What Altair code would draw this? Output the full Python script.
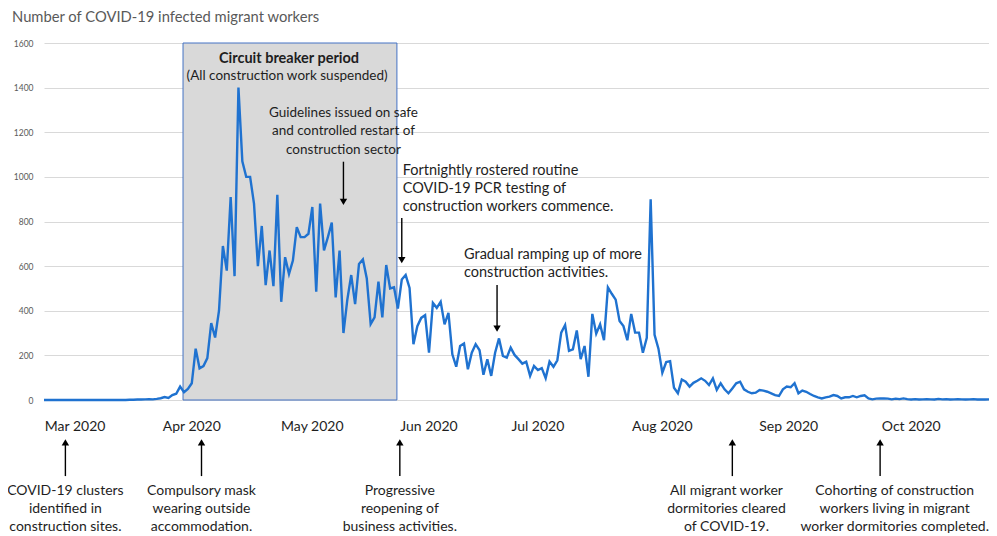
import altair as alt
import pandas as pd

# ---------------- data ----------------
START = "2020-03-01"
END = "2020-10-31"

cases_mar = [0, 0, 0, 0, 0, 0, 0, 0, 0, 0, 0, 0, 0, 0, 0, 0, 0, 0, 0, 0, 0, 0,
             1, 1, 2, 2, 3, 4, 3, 5, 8]
cases_apr = [13, 9, 22, 28, 60, 35, 50, 75, 230, 142, 152, 188, 345, 280, 400,
             690, 580, 910, 555, 1400, 1070, 1000, 1000, 880, 600, 780, 515, 670, 510, 920]
cases_may = [440, 640, 565, 625, 775, 730, 730, 745, 865, 485, 880, 670, 730, 795, 460,
             670, 300, 450, 560, 430, 610, 630, 545, 340, 370, 530, 370, 605, 500, 505, 410]
cases_jun = [540, 560, 502, 250, 331, 368, 380, 212, 435, 413, 440, 339, 391, 205, 149,
             242, 253, 138, 212, 250, 223, 113, 183, 108, 212, 276, 198, 190, 235, 202]
cases_jul = [183, 163, 172, 108, 153, 134, 143, 98, 172, 149, 178, 302, 336, 220, 227,
             312, 183, 242, 104, 386, 297, 339, 268, 505, 476, 450, 354, 331, 268, 386, 302]
cases_aug = [302, 212, 279, 900, 292, 230, 122, 170, 174, 55, 30, 92, 82, 60, 77,
             86, 97, 86, 67, 97, 45, 75, 48, 30, 52, 75, 82, 48, 37, 30, 33]
cases_sep = [45, 42, 37, 30, 22, 18, 48, 60, 57, 75, 30, 42, 37, 27, 18,
             12, 7, 12, 15, 22, 18, 7, 12, 12, 18, 12, 18, 21, 7, 3]
cases_oct = [6, 7, 7, 6, 3, 6, 4, 7, 4, 2, 4, 2, 3, 4, 3, 2,
             5, 3, 4, 2, 3, 4, 3, 2, 3, 4, 2, 3, 2, 3, 2]

cases = cases_mar + cases_apr + cases_may + cases_jun + cases_jul + cases_aug + cases_sep + cases_oct
dates = pd.date_range(START, END, freq="D")

y_ticks = [0, 200, 400, 600, 800, 1000, 1200, 1400, 1600]

# circuit breaker period
box_start = ["2020-04-05T18:00"]
box_end = ["2020-05-30T18:00"]

# month labels under the plot
month_dates = ["2020-03-09T00:00", "2020-04-08T00:00", "2020-05-09T00:00", "2020-06-08T00:00",
               "2020-07-06T00:00", "2020-08-07T00:00", "2020-09-08T12:00", "2020-10-10T00:00"]
month_texts = ["Mar 2020", "Apr 2020", "May 2020", "Jun  2020",
               "Jul 2020", "Aug 2020", "Sep 2020", "Oct 2020"]

# annotations above the line
bold_dates = ["2020-05-03T00:00"]
bold_texts = ["Circuit breaker period"]
bold_y = [1512]

center_dates = ["2020-05-02T12:00", "2020-05-17T00:00"]
center_texts = ["(All construction work suspended)",
                "Guidelines issued on safe\nand controlled restart of\nconstruction sector"]
center_y = [1436, 1268]

left_dates = ["2020-06-01T06:00", "2020-06-17T00:00"]
left_texts = ["Fortnightly rostered routine\nCOVID-19 PCR testing of\nconstruction workers commence.",
              "Gradual ramping up of more\nconstruction activities."]
left_y = [1010, 634]

# annotations below the axis
low_dates = ["2020-03-06T12:00", "2020-04-10T12:00", "2020-05-31T12:00",
             "2020-08-23T12:00", "2020-10-05T18:00"]
low_texts = ["COVID-19 clusters\nidentified in\nconstruction sites.",
             "Compulsory mask\nwearing outside\naccommodation.",
             "Progressive\nreopening of\nbusiness activities.",
             "All migrant worker\ndormitories cleared\nof COVID-19.",
             "Cohorting of construction\nworkers living  in migrant\nworker dormitories completed."]
low_y = [-428, -428, -428, -428, -428]

# arrows
arrow_dates = ["2020-05-17T00:00", "2020-06-01T00:00", "2020-06-25T12:00",
               "2020-03-06T12:00", "2020-04-10T12:00", "2020-05-31T12:00",
               "2020-08-25T00:00", "2020-10-02T00:00"]
arrow_from = [1068, 816, 515, -341, -341, -341, -341, -341]
arrow_to = [888, 627, 320, -190, -190, -190, -190, -190]
arrow_shape = ["triangle-down", "triangle-down", "triangle-down",
               "triangle-up", "triangle-up", "triangle-up", "triangle-up", "triangle-up"]

# ---------------- chart ----------------
FONT = "Lato"
TXT = "#1e1e1e"
BLUE = "#1f72d0"

def ts(lst):
    return pd.to_datetime(lst, format="%Y-%m-%dT%H:%M")

line_df = pd.DataFrame({"date": dates, "cases": cases})
box_df = pd.DataFrame({"start": ts(box_start), "end": ts(box_end), "top": [1600], "bottom": [0]})
month_df = pd.DataFrame({"date": ts(month_dates), "text": month_texts, "y": [-138] * len(month_texts)})
bold_df = pd.DataFrame({"date": ts(bold_dates), "text": bold_texts, "y": bold_y})
center_df = pd.DataFrame({"date": ts(center_dates), "text": center_texts, "y": center_y})
left_df = pd.DataFrame({"date": ts(left_dates), "text": left_texts, "y": left_y})
low_df = pd.DataFrame({"date": ts(low_dates), "text": low_texts, "y": low_y})
arrow_df = pd.DataFrame({"date": ts(arrow_dates), "y1": arrow_from, "y2": arrow_to, "shape": arrow_shape})

# visible window ends one day before the last observation (the page is 981px wide)
x_scale = alt.Scale(domain=[alt.DateTime(year=2020, month=3, date=1),
                            alt.DateTime(year=2020, month=10, date=30)], nice=False)
y_scale = alt.Scale(domain=[0, 1600], nice=False, zero=False)
y_axis = alt.Axis(values=y_ticks, format="d", grid=True, gridColor="#d9d9d9", gridWidth=1,
                  ticks=False, domain=False, labelColor="#595959", labelFont=FONT,
                  labelFontSize=8.5, labelPadding=11, title=None)

def X(field):
    return alt.X(field, type="temporal", scale=x_scale, axis=None, title=None)

def Y(field):
    return alt.Y(field, type="quantitative", scale=y_scale, axis=y_axis, title=None)

box = alt.Chart(box_df).mark_rect(fill="#d9d9d9", stroke="#4472c4", strokeWidth=1).encode(
    x=X("start"), x2="end", y=Y("top"), y2="bottom")

line = alt.Chart(line_df).mark_line(color=BLUE, strokeWidth=2.4).encode(
    x=X("date"), y=Y("cases"))

rules = alt.Chart(arrow_df).mark_rule(color="#000000", strokeWidth=1.4).encode(
    x=X("date"), y=Y("y1"), y2="y2")

heads = alt.Chart(arrow_df).mark_point(filled=True, color="#000000", size=55, opacity=1).encode(
    x=X("date"), y=Y("y2"), shape=alt.Shape("shape:N", scale=None, legend=None))

def text_layer(df, align, weight="normal", size=13, color=TXT, lh=18.3):
    return alt.Chart(df).mark_text(align=align, baseline="alphabetic", font=FONT, fontSize=size,
                                   fontWeight=weight, lineBreak="\n", lineHeight=lh,
                                   color=color).encode(x=X("date"), y=Y("y"), text="text:N")

months = text_layer(month_df, "center", size=14)
bold = text_layer(bold_df, "center", weight="bold", size=14.5)
center = text_layer(center_df, "center", size=13.5)
left = text_layer(left_df, "left", size=14.5)
low = text_layer(low_df, "center", size=14, lh=18)

chart = alt.layer(box, line, rules, heads, months, bold, center, left, low).properties(
    width=945, height=357,
    autosize=alt.AutoSizeParams(type="none"),
    padding={"left": 36, "top": 35, "right": 0, "bottom": 136},
    title=alt.TitleParams("Number of COVID-19 infected migrant workers", anchor="start",
                          frame="group", dx=-32, offset=14, font=FONT, fontSize=14.75,
                          fontWeight="normal", color="#595959"),
    background="white",
).configure_view(strokeWidth=0)

chart.save("out.html", embed_options={"renderer": "svg", "actions": False})
